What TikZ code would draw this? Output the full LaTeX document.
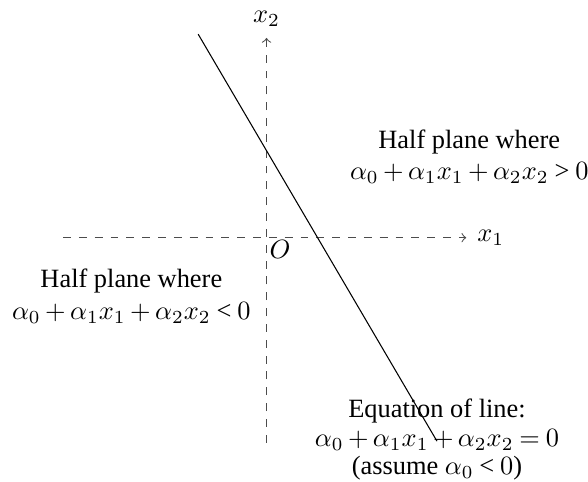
\documentclass[tikz,border=0pt]{standalone}
\usepackage{amsmath}
\usepackage{fontspec}
\setmainfont{Liberation Serif}
\usepackage{tikz}
% digits and relations from the text font
\DeclareSymbolFont{tmops}{TU}{\rmdefault}{m}{n}
\DeclareMathSymbol{0}{\mathalpha}{tmops}{"30}
\DeclareMathSymbol{1}{\mathalpha}{tmops}{"31}
\DeclareMathSymbol{2}{\mathalpha}{tmops}{"32}
\DeclareMathSymbol{+}{\mathbin}{tmops}{"2B}
\DeclareMathSymbol{=}{\mathrel}{tmops}{"3D}
\DeclareMathSymbol{<}{\mathrel}{tmops}{"3C}
\DeclareMathSymbol{>}{\mathrel}{tmops}{"3E}
\medmuskip=3mu plus 1mu minus 1mu
\thickmuskip=4mu plus 1mu

\begin{document}
\begin{tikzpicture}[axis/.style={dashed, draw=black!70, ->}]
                        \useasboundingbox (-3.549,-3.253) rectangle (4.281,3.165);
                        % Nodes
                        \coordinate (O) at (0,0);
                        \coordinate (xleft) at (-2.71,0);
                        \coordinate (xright) at (2.66,0);
                        \coordinate (ybottom) at (0,-2.73);
                        \coordinate (ytop) at (0,2.66);
                        \coordinate (linetop) at (-0.91,2.71);
                        \node[right, inner sep=4pt] (x1) at (xright) {$x_1$};
                        \node[above, inner sep=4pt] (x2) at (ytop) {$x_2$};
                        \node[below right, inner sep=1pt] (origin) at (O) {$O$};
                        \node[align=center] (pos) at (2.70,1.08) {Half plane where\\ $\alpha_0 + \alpha_1 x_1 + \alpha_2 x_2 > 0$};
                        \node[align=center] (neg) at (-1.80,-0.78) {Half plane where\\ $\alpha_0 + \alpha_1 x_1 + \alpha_2 x_2 < 0$};
                        \node[align=center] (eq) at (2.27,-2.69) {Equation of line:\\[-1pt] $\alpha_0 + \alpha_1 x_1 + \alpha_2 x_2 = 0$\\[-1.5pt] (assume $\alpha_0 < 0$)};

                        % Edges
                        \draw[axis] (xleft) -- (xright);
                        \draw[axis] (ybottom) -- (ytop);
                        \draw (linetop) -- (2.27,-2.71);
                    \end{tikzpicture}
\end{document}
